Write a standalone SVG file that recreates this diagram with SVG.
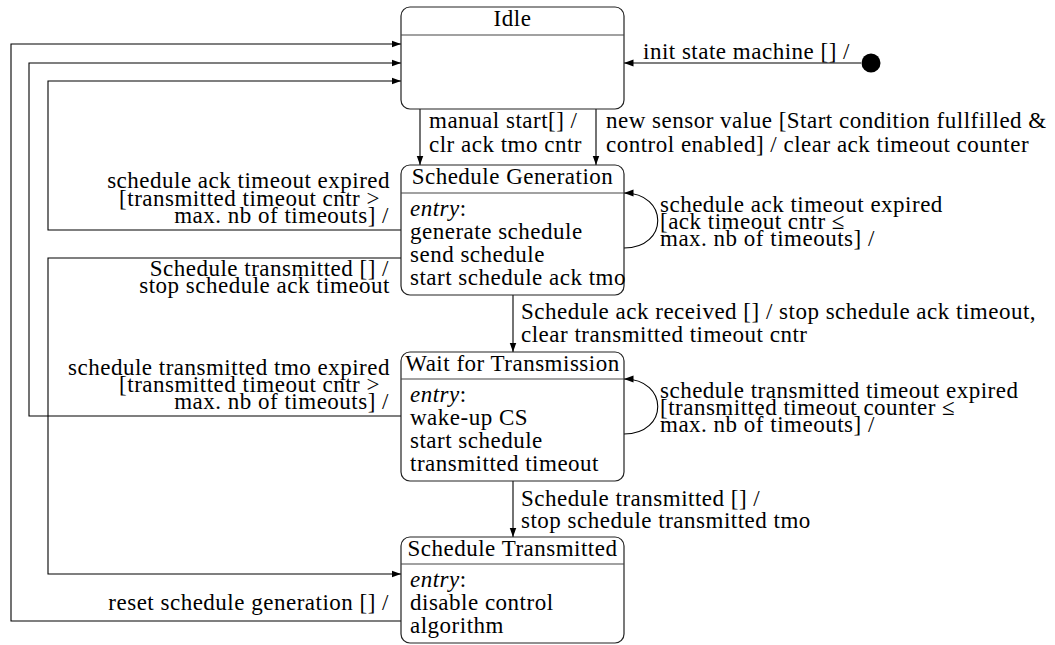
<svg xmlns="http://www.w3.org/2000/svg" width="1055" height="645" viewBox="0 0 1055 645">
  <defs>
    <marker id="arr" markerWidth="10" markerHeight="8" refX="9.5" refY="4" orient="auto" markerUnits="userSpaceOnUse">
      <path d="M0,0.6 L9.5,4 L0,7.4 Z" fill="#000"/>
    </marker>
    <style>
      text { font-family: 'Liberation Serif', 'Times New Roman', Times, serif; font-size: 23px; letter-spacing: 0.5px; fill: #000; }
      .c { text-anchor: middle; }
      .e { text-anchor: end; }
      .i { font-style: italic; }
      .box { fill: #fff; stroke: #222; stroke-width: 1.2; }
      .sep { stroke: #444; stroke-width: 1.2; }
      .ln { fill: none; stroke: #000; stroke-width: 1.1; }
      .ar { marker-end: url(#arr); }
    </style>
  </defs>
  <rect width="1055" height="645" fill="#fff"/>

  <!-- connectors -->
  <g id="connectors">
    <!-- initial transition -->
    <path class="ln ar" d="M861,63 H624"/>
    <text x="643" y="59">init state machine [] /</text>

    <!-- Idle -> Schedule Generation -->
    <path class="ln ar" d="M420,109 V165"/>
    <text x="429" y="128">manual start[] /</text>
    <text x="429" y="152">clr ack tmo cntr</text>
    <path class="ln ar" d="M596,109 V165"/>
    <text x="606" y="128">new sensor value [Start condition fullfilled &amp;</text>
    <text x="606" y="152">control enabled] / clear ack timeout counter</text>

    <!-- Schedule Generation self loop -->
    <path class="ln ar" d="M624,248 C669,248 669,193 624,193"/>
    <text x="660" y="212">schedule ack timeout expired</text>
    <text x="660" y="229">[ack timeout cntr ≤</text>
    <text x="660" y="246">max. nb of timeouts] /</text>

    <!-- Schedule Generation -> Idle -->
    <path class="ln ar" d="M401,230 H48 V81 H401"/>
    <text class="e" x="390" y="188">schedule ack timeout expired</text>
    <text class="e" x="380" y="206">[transmitted timeout cntr &gt;</text>
    <text class="e" x="389" y="223">max. nb of timeouts] /</text>

    <!-- Schedule Generation -> Schedule Transmitted -->
    <path class="ln ar" d="M401,258 H48 V574 H401"/>
    <text class="e" x="389" y="276">Schedule transmitted [] /</text>
    <text class="e" x="390" y="293">stop schedule ack timeout</text>

    <!-- Schedule Generation -> Wait for Transmission -->
    <path class="ln ar" d="M513,295 V352"/>
    <text x="521" y="319">Schedule ack received [] / stop schedule ack timeout,</text>
    <text x="521" y="342">clear transmitted timeout cntr</text>

    <!-- Wait for Transmission self loop -->
    <path class="ln ar" d="M624,434 C669,434 669,379 624,379"/>
    <text x="660" y="398">schedule transmitted timeout expired</text>
    <text x="660" y="415">[transmitted timeout counter ≤</text>
    <text x="660" y="432">max. nb of timeouts] /</text>

    <!-- Wait for Transmission -> Idle -->
    <path class="ln ar" d="M401,416 H29 V63 H401"/>
    <text class="e" x="390" y="375">schedule transmitted tmo expired</text>
    <text class="e" x="380" y="392">[transmitted timeout cntr &gt;</text>
    <text class="e" x="389" y="409">max. nb of timeouts] /</text>

    <!-- Wait for Transmission -> Schedule Transmitted -->
    <path class="ln ar" d="M513,481 V537"/>
    <text x="521" y="506">Schedule transmitted [] /</text>
    <text x="521" y="528">stop schedule transmitted tmo</text>

    <!-- Schedule Transmitted -> Idle -->
    <path class="ln ar" d="M401,621 H11 V44 H401"/>
    <text class="e" x="389" y="610">reset schedule generation [] /</text>
  </g>

  <!-- states -->
  <g id="initial">
    <circle cx="871" cy="63" r="9.5" fill="#000"/>
  </g>

  <g id="idle">
    <rect class="box" x="401" y="7" width="223" height="102" rx="9"/>
    <line class="sep" x1="401" y1="35" x2="624" y2="35"/>
    <text class="c" x="512.5" y="26">Idle</text>
  </g>

  <g id="schedule-generation">
    <rect class="box" x="401" y="165" width="223" height="130" rx="9"/>
    <line class="sep" x1="401" y1="193" x2="624" y2="193"/>
    <text class="c" x="512.5" y="184">Schedule Generation</text>
    <text x="410" y="216"><tspan class="i">entry</tspan>:</text>
    <text x="410" y="239">generate schedule</text>
    <text x="410" y="262">send schedule</text>
    <text x="410" y="285">start schedule ack tmo</text>
  </g>

  <g id="wait-for-transmission">
    <rect class="box" x="401" y="352" width="223" height="129" rx="9"/>
    <line class="sep" x1="401" y1="379" x2="624" y2="379"/>
    <text class="c" x="512.5" y="371">Wait for Transmission</text>
    <text x="410" y="402"><tspan class="i">entry</tspan>:</text>
    <text x="410" y="425">wake-up CS</text>
    <text x="410" y="448">start schedule</text>
    <text x="410" y="471">transmitted timeout</text>
  </g>

  <g id="schedule-transmitted">
    <rect class="box" x="401" y="537" width="223" height="106" rx="9"/>
    <line class="sep" x1="401" y1="564" x2="624" y2="564"/>
    <text class="c" x="512.5" y="556">Schedule Transmitted</text>
    <text x="410" y="587"><tspan class="i">entry</tspan>:</text>
    <text x="410" y="610">disable control</text>
    <text x="410" y="633">algorithm</text>
  </g>
</svg>
